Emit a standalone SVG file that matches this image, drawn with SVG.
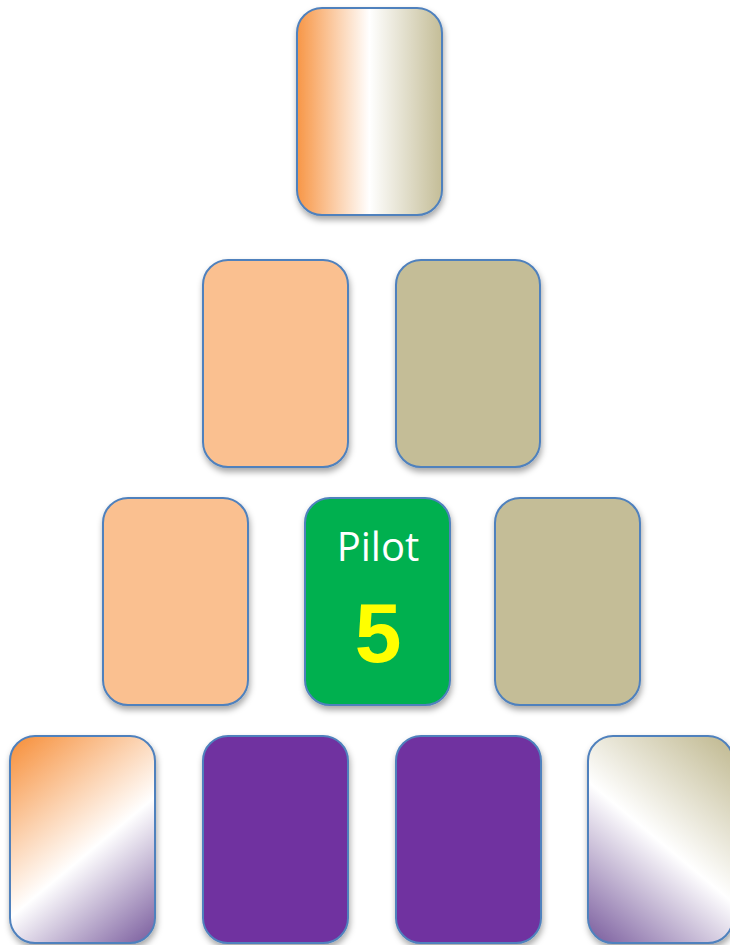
<svg xmlns="http://www.w3.org/2000/svg" width="730" height="945" viewBox="0 0 730 945">
<defs>
<filter id="sh" x="-10%" y="-10%" width="125%" height="125%">
<feDropShadow dx="1" dy="4" stdDeviation="3" flood-color="#000" flood-opacity="0.35"/>
</filter>
<linearGradient id="gTop" x1="0" y1="0" x2="1" y2="0">
<stop offset="0" stop-color="#f79646"/>
<stop offset="0.5" stop-color="#fff"/>
<stop offset="1" stop-color="#c4bd97"/>
</linearGradient>
<linearGradient id="gBL" gradientUnits="userSpaceOnUse" x1="10" y1="750" x2="160" y2="930">
<stop offset="0" stop-color="#f79646"/>
<stop offset="0.55" stop-color="#fff"/>
<stop offset="1" stop-color="#8064a2"/>
</linearGradient>
<linearGradient id="gBR" gradientUnits="userSpaceOnUse" x1="733" y1="750" x2="583" y2="930">
<stop offset="0" stop-color="#c4bd97"/>
<stop offset="0.5" stop-color="#fff"/>
<stop offset="1" stop-color="#8064a2"/>
</linearGradient>
</defs>
<style>
.card{stroke:#4f81bd;stroke-width:2;filter:url(#sh)}
.peach{fill:#fac090}
.tan{fill:#c4bd97}
.purple{fill:#7030a0}
.green{fill:#00b050}
.lbl{font-family:"Open Sans","Liberation Sans",sans-serif;font-size:40px;fill:#fff;text-anchor:middle}
.num{font-family:"Liberation Sans",Arial,sans-serif;font-weight:bold;font-size:84px;fill:#ffff00;text-anchor:middle}
</style>
<g id="card-top"><rect class="card" x="297" y="8" width="145" height="207" rx="25" fill="url(#gTop)"/></g>
<g id="card-r2-left"><rect class="card peach" x="203" y="260" width="145" height="207" rx="25"/></g>
<g id="card-r2-right"><rect class="card tan" x="396" y="260" width="144" height="207" rx="25"/></g>
<g id="card-r3-left"><rect class="card peach" x="103" y="498" width="145" height="207" rx="25"/></g>
<g id="card-pilot"><rect class="card green" x="305" y="498" width="145" height="207" rx="25"/>
<text class="lbl" x="378" y="561">Pilot</text>
<text class="num" x="378" y="662">5</text></g>
<g id="card-r3-right"><rect class="card tan" x="495" y="498" width="145" height="207" rx="25"/></g>
<g id="card-r4-1"><rect class="card" x="10" y="736" width="145" height="207" rx="25" fill="url(#gBL)"/></g>
<g id="card-r4-2"><rect class="card purple" x="203" y="736" width="145" height="207" rx="25"/></g>
<g id="card-r4-3"><rect class="card purple" x="396" y="736" width="145" height="207" rx="25"/></g>
<g id="card-r4-4"><rect class="card" x="588" y="736" width="145" height="207" rx="25" fill="url(#gBR)"/></g>
<g id="connectors"></g>
</svg>
